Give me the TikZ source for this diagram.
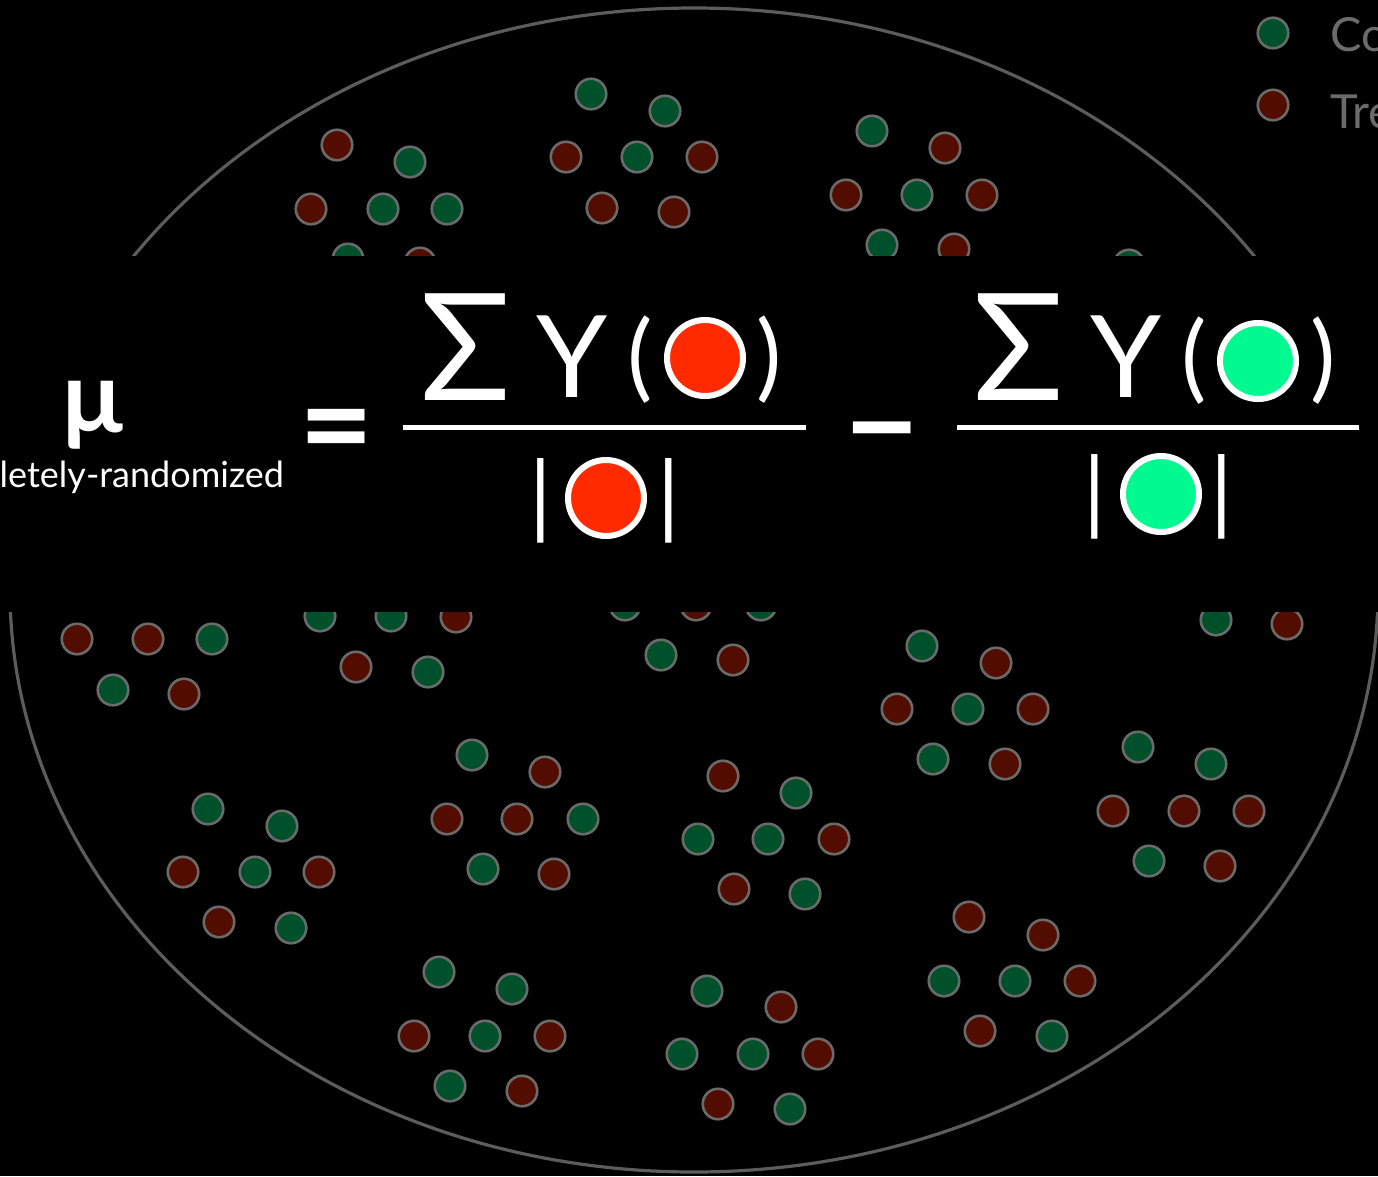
\documentclass[tikz,border=0pt]{standalone}
\usepackage{fontspec}
\setmainfont{Lato}
\definecolor{dred}{HTML}{520D00}
\definecolor{dgreen}{HTML}{00502B}
\definecolor{ringgray}{HTML}{6A6A6A}
\definecolor{ellgray}{HTML}{5C5C5C}
\definecolor{legtext}{HTML}{6B6B6B}
\definecolor{bred}{HTML}{FF2A00}
\definecolor{bgreen}{HTML}{00FA8F}
\newcommand{\fsz}[1]{\fontsize{#1}{#1}\selectfont}
\tikzset{
  tdot/.style={circle, fill=dred, draw=ringgray, line width=2.6pt, minimum size=30.5pt, inner sep=0pt},
  cdot/.style={circle, fill=dgreen, draw=ringgray, line width=2.6pt, minimum size=30.5pt, inner sep=0pt},
  bigdot/.style={circle, draw=white, line width=6pt, minimum size=76pt, inner sep=0pt},
  glyph/.style={text=white, inner sep=0pt, outer sep=0pt},
  fracbar/.style={draw=white, line width=5pt},
}
\begin{document}
\begin{tikzpicture}[x=1pt, y=-1pt]
\useasboundingbox (0,0) rectangle (1378,1176);
\clip (0,0) rectangle (1378,1176);
\fill[black] (0,0) rectangle (1378,1176);
% population ellipse
\draw[ellgray, line width=3.2pt] (694,590) ellipse [x radius=684, y radius=582];
% treated units
\foreach [count=\i] \x/\y in {
  337/145, 311/209, 420/263,
  566/157, 702/157, 602/208, 674/212,
  945/148, 846/195, 982/195, 954/249,
  77/639, 148/639, 184/694, 456/617, 356/667, 696/605, 733/660, 1287/624,
  996/663, 897/709, 1033/709, 1005/764,
  1113/811, 1184/811, 1249/811, 1220/866,
  183/872, 319/872, 219/922,
  545/772, 447/819, 517/819, 554/874,
  723/776, 834/839, 734/889,
  969/917, 1043/935, 1080/981, 980/1031,
  414/1036, 550/1036, 522/1091,
  781/1007, 818/1054, 718/1104}
  \node[tdot] (t\i) at (\x,\y) {};
% control units
\foreach [count=\i] \x/\y in {
  410/162, 383/209, 447/209, 348/259,
  591/94, 665/111, 637/157,
  872/131, 917/195, 882/245, 1129/265,
  212/639, 113/690, 320/616, 391/616, 428/672, 625/605, 761/605, 661/655, 1216/620,
  922/646, 968/709, 933/759,
  1138/747, 1211/764, 1149/861,
  208/809, 282/826, 255/872, 291/928,
  472/755, 583/819, 483/869,
  796/793, 698/839, 768/839, 805/894,
  944/981, 1015/981, 1052/1036,
  439/972, 512/989, 485/1036, 450/1086,
  707/991, 682/1054, 753/1054, 790/1109}
  \node[cdot] (c\i) at (\x,\y) {};
% legend
\node[cdot] (legc) at (1273,33) {};
\node[tdot] (legt) at (1273,105) {};
\node[anchor=base west, inner sep=0pt, text=legtext, font=\fsz{47}] (legctext) at (1330,51) {Control};
\node[anchor=base west, inner sep=0pt, text=legtext, font=\fsz{47}] (legttext) at (1330,128) {Treatment};
% formula band
\fill[black] (0,256) rectangle (1378,612);
% left side
\node[glyph, anchor=north, font=\bfseries\fsz{100}] (mu) at (93,381) {µ};
\node[glyph, anchor=base east, font=\fsz{36}] (musub) at (284,487) {completely-randomized};
\node[glyph, anchor=center, font=\bfseries\fsz{128}] (eq) at (337,439) {=};
% first fraction
\node[glyph, anchor=base, font=\fsz{149}] (s1) at (466,400) {Σ};
\node[glyph, anchor=base, font=\fsz{114}] (y1) at (572,397) {Y};
\node[glyph, anchor=center, font=\fsz{95}] (lp1) at (640,360) {(};
\node[bigdot, fill=bred] (n1) at (705,358) {};
\node[glyph, anchor=center, font=\fsz{95}] (rp1) at (769,360) {)};
\draw[fracbar] (403,427) -- (806,427);
\node[glyph, anchor=center, font=\fsz{90}] (lb1) at (541,501) {|};
\node[bigdot, fill=bred] (d1) at (606,498) {};
\node[glyph, anchor=center, font=\fsz{90}] (rb1) at (669,501) {|};
% minus
\node[glyph, anchor=center, font=\bfseries\fsz{130}] (minus) at (882,447) {−};
% second fraction
\node[glyph, anchor=base, font=\fsz{149}] (s2) at (1019,400) {Σ};
\node[glyph, anchor=base, font=\fsz{114}] (y2) at (1126,397) {Y};
\node[glyph, anchor=center, font=\fsz{95}] (lp2) at (1194,361) {(};
\node[bigdot, fill=bgreen] (n2) at (1258,361) {};
\node[glyph, anchor=center, font=\fsz{95}] (rp2) at (1323,361) {)};
\draw[fracbar] (957,427) -- (1359,427);
\node[glyph, anchor=center, font=\fsz{90}] (lb2) at (1095,497) {|};
\node[bigdot, fill=bgreen] (d2) at (1161,494) {};
\node[glyph, anchor=center, font=\fsz{90}] (rb2) at (1222,497) {|};
\end{tikzpicture}
\end{document}
